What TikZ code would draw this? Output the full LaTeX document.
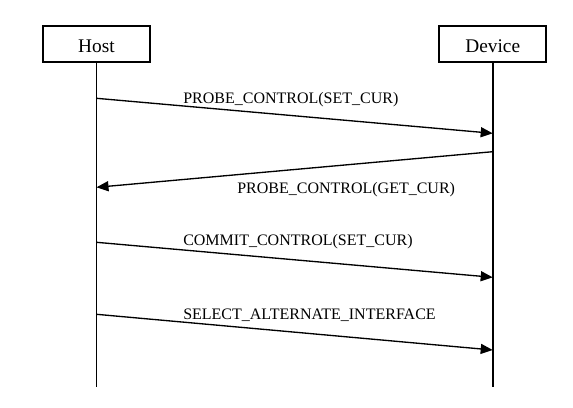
\documentclass[tikz,border=0pt]{standalone}
\usepackage{fontspec}
\setmainfont{Liberation Serif}
\usetikzlibrary{arrows.meta}

\begin{document}
\begin{tikzpicture}[x=0.75pt,y=-0.75pt,
    actor/.style={draw,line width=1.5pt,minimum width=80.5pt,minimum height=26.8pt,inner sep=0pt,text height=14pt,text depth=1pt,font=\fontsize{14.5}{17}\selectfont},
    lifeline/.style={line width=1.2pt},
    msg/.style={-{Triangle[length=9pt,width=7.5pt]},line width=1pt},
    msglabel/.style={anchor=base west,inner sep=0pt,font=\fontsize{12}{14}\selectfont}]%
    \useasboundingbox (0,0) rectangle (573,407);%
    % actors
    \node[actor] (host) at (96.5,44) {Host};%
    \node[actor] (device) at (492.7,44) {Device};%
    \coordinate (hostend) at (96.5,387);%
    \coordinate (deviceend) at (492.7,387);%
    \draw[lifeline] (host.south) -- (hostend);%
    \draw[lifeline] (device.south) -- (deviceend);%
    % message end points
    \coordinate (h1) at (96.5,98.3);%
    \coordinate (d1) at (492.7,133.3);%
    \coordinate (d2) at (492.7,151.7);%
    \coordinate (h2) at (96.5,187.3);%
    \coordinate (h3) at (96.5,242.3);%
    \coordinate (d3) at (492.7,277.3);%
    \coordinate (h4) at (96.5,314.3);%
    \coordinate (d4) at (492.7,350);%
    % messages
    \draw[msg] (h1) -- (d1);%
    \node[msglabel] (probeset) at (183,103) {PROBE\_CONTROL(SET\_CUR)};%
    \draw[msg] (d2) -- (h2);%
    \node[msglabel] (probeget) at (237,193) {PROBE\_CONTROL(GET\_CUR)};%
    \draw[msg] (h3) -- (d3);%
    \node[msglabel] (commitset) at (183,245.5) {COMMIT\_CONTROL(SET\_CUR)};%
    \draw[msg] (h4) -- (d4);%
    \node[msglabel] (selectalt) at (183,319) {SELECT\_ALTERNATE\_INTERFACE};%
  \end{tikzpicture}
\end{document}
